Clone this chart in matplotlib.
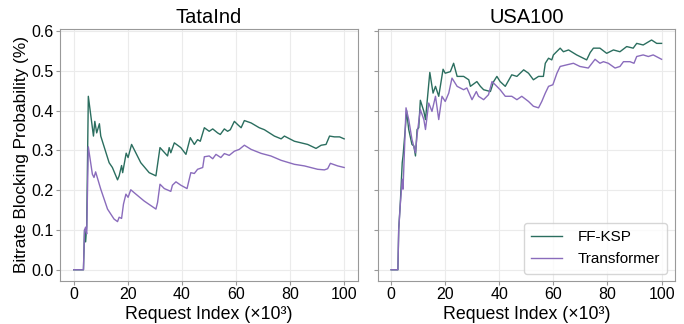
import numpy as np
import matplotlib
matplotlib.use('Agg')
from matplotlib import pyplot as plt

plt.rcParams['font.family'] = ['Liberation Sans', 'DejaVu Sans']

# TataInd, FF-KSP
tata_ff_x = [0, 3.6, 4.0, 4.4, 4.8, 5.4, 7.3, 7.8, 8.5, 9.5, 10.0, 13.1, 14.3, 16.2, 16.8, 17.7,
             18.1, 19.4, 20.1, 21.4, 24.8, 27.9, 30.4, 31.9, 34.7, 35.3, 35.9, 37.2, 39.6, 41.5,
             43.1, 44.6, 45.8, 46.8, 48.3, 50.1, 51.4, 53.2, 54.2, 55.7, 56.9, 57.9, 59.4, 60.6,
             61.9, 63.1, 65.6, 68.6, 70.5, 74.2, 76.7, 77.9, 81.6, 86.5, 89.6, 91.5, 93.3, 94.6,
             96.4, 98.3, 100]
tata_ff_y = [0, 0, 0.1, 0.07, 0.11, 0.436, 0.336, 0.373, 0.344, 0.367, 0.336, 0.269, 0.257, 0.226,
             0.236, 0.262, 0.244, 0.293, 0.282, 0.315, 0.269, 0.244, 0.236, 0.307, 0.286, 0.307,
             0.294, 0.319, 0.307, 0.29, 0.332, 0.315, 0.327, 0.323, 0.357, 0.348, 0.354, 0.344,
             0.34, 0.354, 0.348, 0.352, 0.373, 0.365, 0.357, 0.375, 0.369, 0.357, 0.352, 0.336,
             0.329, 0.336, 0.323, 0.315, 0.305, 0.313, 0.315, 0.336, 0.334, 0.334, 0.329]

# TataInd, Transformer
tata_tr_x = [0, 3.6, 4.0, 4.4, 4.8, 5.4, 6.9, 7.5, 8.1, 10.0, 12.5, 14.9, 16.2, 16.8, 17.7, 18.4,
             19.3, 20.1, 21.1, 22.3, 26.0, 30.4, 31.0, 31.9, 33.5, 35.9, 36.5, 37.8, 39.6, 41.9,
             43.3, 44.6, 45.8, 47.7, 48.3, 50.1, 51.4, 52.6, 54.4, 55.7, 57.5, 59.4, 61.2, 63.1,
             65.6, 69.3, 72.9, 76.7, 81.6, 85.3, 90.2, 92.7, 93.9, 94.9, 97.6, 100]
tata_tr_y = [0, 0, 0.1, 0.107, 0.09, 0.309, 0.24, 0.232, 0.246, 0.2025, 0.1525, 0.1275, 0.121,
             0.132, 0.129, 0.165, 0.19, 0.182, 0.201, 0.194, 0.173, 0.1525, 0.169, 0.215, 0.204,
             0.197, 0.2125, 0.221, 0.2125, 0.204, 0.244, 0.242, 0.2525, 0.257, 0.284, 0.286,
             0.279, 0.29, 0.282, 0.292, 0.2875, 0.298, 0.3025, 0.313, 0.3025, 0.2925, 0.286,
             0.275, 0.265, 0.261, 0.2525, 0.251, 0.254, 0.2675, 0.261, 0.257]

# USA100, FF-KSP
usa_ff_x = [0, 2.5, 2.8, 3.4, 4.1, 4.4, 5.3, 5.7, 6.5, 7.7, 8.4, 9.0, 9.6, 10.2, 10.8, 12.1, 12.7,
            14.3, 15.5, 16.4, 17.6, 19.2, 20.0, 21.9, 23.1, 24.4, 26.8, 28.7, 29.3, 31.7, 33.0,
            34.2, 36.7, 37.9, 39.1, 40.3, 42.2, 44.6, 46.5, 49.0, 50.8, 52.6, 54.5, 56.3, 57.0,
            58.2, 59.4, 60.0, 62.5, 63.7, 65.6, 68.6, 72.3, 73.6, 74.8, 77.2, 79.7, 82.2, 84.6,
            87.1, 89.5, 90.8, 93.2, 96.3, 98.2, 100]
usa_ff_y = [0, 0, 0.1025, 0.169, 0.269, 0.286, 0.36, 0.4, 0.3525, 0.315, 0.311, 0.286, 0.3525,
            0.357, 0.426, 0.398, 0.3775, 0.496, 0.444, 0.461, 0.436, 0.504, 0.494, 0.498, 0.519,
            0.486, 0.486, 0.4775, 0.461, 0.473, 0.461, 0.4525, 0.448, 0.473, 0.486, 0.473, 0.461,
            0.49, 0.486, 0.5025, 0.494, 0.4775, 0.486, 0.486, 0.519, 0.5317, 0.5275, 0.54, 0.557,
            0.548, 0.5525, 0.54, 0.5275, 0.546, 0.557, 0.557, 0.544, 0.5525, 0.548, 0.561, 0.557,
            0.569, 0.565, 0.5775, 0.569, 0.569]

# USA100, Transformer
usa_tr_x = [0, 2.5, 2.8, 3.4, 4.1, 4.4, 5.5, 6.5, 7.7, 9.0, 9.6, 10.8, 12.1, 12.7, 13.9, 15.1,
            16.4, 17.6, 18.8, 20.0, 21.3, 22.5, 24.4, 26.8, 28.0, 29.9, 31.5, 32.3, 34.2, 36.0,
            37.3, 38.5, 40.3, 42.2, 44.6, 46.5, 48.3, 50.8, 52.6, 54.5, 55.7, 57.0, 58.2, 59.8,
            61.3, 62.5, 64.9, 67.4, 69.8, 72.9, 75.4, 77.2, 78.5, 80.3, 82.8, 84.6, 85.9, 88.3,
            89.8, 90.8, 93.2, 95.1, 96.9, 100]
usa_tr_y = [0, 0, 0.1, 0.165, 0.2275, 0.2025, 0.407, 0.3775, 0.3275, 0.294, 0.34, 0.4025, 0.3775,
            0.3525, 0.419, 0.398, 0.436, 0.3775, 0.436, 0.423, 0.444, 0.4817, 0.461, 0.4525,
            0.457, 0.4275, 0.448, 0.436, 0.4275, 0.44, 0.473, 0.465, 0.4525, 0.436, 0.436,
            0.4275, 0.436, 0.423, 0.411, 0.407, 0.423, 0.444, 0.461, 0.465, 0.494, 0.511, 0.515,
            0.519, 0.511, 0.507, 0.529, 0.519, 0.523, 0.519, 0.507, 0.511, 0.523, 0.523, 0.519,
            0.536, 0.54, 0.536, 0.54, 0.529]

titles = ['TataInd', 'USA100']
green = '#2b6e5f'
purple = '#8a6cbc'

fig, axes = plt.subplots(1, 2, figsize=(6.84, 3.24), dpi=100, sharey=True)
fig.subplots_adjust(left=0.088, right=0.987, top=0.912, bottom=0.132, wspace=0.067)

data = [(tata_ff_x, tata_ff_y, tata_tr_x, tata_tr_y),
        (usa_ff_x, usa_ff_y, usa_tr_x, usa_tr_y)]

for ax, title, (fx, fy, tx, ty) in zip(axes, titles, data):
    ax.plot(fx, fy, color=green, lw=1.0, label='FF-KSP')
    ax.plot(tx, ty, color=purple, lw=1.0, label='Transformer')
    ax.set_title(title, fontsize=14.5, pad=4)
    ax.set_xlabel('Request Index (×10³)', fontsize=12.8, labelpad=2.5)
    ax.grid(True, color='#ebebeb', lw=0.8)
    ax.set_axisbelow(True)
    ax.set_xticks([0, 20, 40, 60, 80, 100])
    ax.set_yticks([0.0, 0.1, 0.2, 0.3, 0.4, 0.5, 0.6])
    ax.tick_params(labelsize=11.5, length=3, color='#999999', pad=1.5)
    for s in ax.spines.values():
        s.set_color('#999999')
        s.set_linewidth(0.8)

axes[0].set_ylabel('Bitrate Blocking Probability (%)', fontsize=12.4, labelpad=2)
axes[0].yaxis.set_major_formatter(matplotlib.ticker.FormatStrFormatter('%.1f'))
axes[1].tick_params(labelleft=False)
axes[1].legend(loc='lower right', fontsize=11, handlelength=2.0, handletextpad=1.0,
               borderpad=0.5)

fig.savefig('out.png', dpi=100)
